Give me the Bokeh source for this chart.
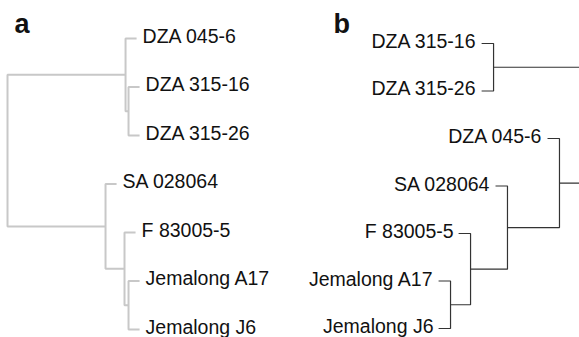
from bokeh.plotting import figure
from bokeh.layouts import row
from bokeh.models import Range1d, Label
from bokeh.core.properties import value
from bokeh.embed import file_html
from bokeh.resources import INLINE

# ---- Panel a: clustering tree (root at left, leaves at right) ----
a_leaves = ["DZA 045-6", "DZA 315-16", "DZA 315-26", "SA 028064",
            "F 83005-5", "Jemalong A17", "Jemalong J6"]
# merges: ids 0..6 are leaves, merge k creates node 7+k
a_left = [1, 0, 5, 4, 3, 8]
a_right = [2, 7, 6, 9, 10, 11]
a_height = [0.069, 0.092, 0.069, 0.100, 0.246, 1.000]
a_hang = 0.085

# ---- Panel b: clustering tree (leaves at left, root off to the right) ----
b_leaves = ["DZA 315-16", "DZA 315-26", "DZA 045-6", "SA 028064",
            "F 83005-5", "Jemalong A17", "Jemalong J6"]
b_left = [5, 4, 3, 2, 0, 11]
b_right = [6, 7, 8, 9, 1, 10]
b_height = [0.154, 0.308, 0.592, 0.992, 0.485, 1.300]
b_hang = 0.092

FONT = value("Liberation Sans")


def tree_paths(n, left, right, height, hang):
    """Elbow paths for every merge plus the leaf end positions."""
    y = {i: float(i) for i in range(n)}
    h = {}
    xs, ys = [], []
    for k, (l, r, ht) in enumerate(zip(left, right, height)):
        for c in (l, r):
            if c < n:
                h[c] = ht - hang
        nid = n + k
        y[nid] = (y[l] + y[r]) / 2.0
        h[nid] = ht
        xs.append([h[l], ht, ht, h[r]])
        ys.append([y[l], y[l], y[r], y[r]])
    leaf_h = [h[i] for i in range(n)]
    leaf_y = [y[i] for i in range(n)]
    return xs, ys, leaf_h, leaf_y


def base_fig(width, xr, yr):
    p = figure(width=width, height=337, x_range=xr, y_range=yr,
               x_axis_type=None, y_axis_type=None, toolbar_location=None,
               output_backend="svg", min_border=0)
    p.grid.visible = False
    p.outline_line_color = None
    p.background_fill_color = "white"
    p.border_fill_color = "white"
    return p


def panel_label(p, x, txt):
    p.add_layout(Label(x=x, y=314, x_units="screen", y_units="screen",
                       text=txt, text_font="Liberation Sans",
                       text_font_style="bold", text_font_size="27px",
                       text_baseline="alphabetic", text_color="#111111"))


# panel a
xs, ys, lh, ly = tree_paths(len(a_leaves), a_left, a_right, a_height, a_hang)
pa = base_fig(290, Range1d(1.054, -1.177), Range1d(6.165, -0.7835))
pa.multi_line(xs=xs, ys=ys, line_color="#c8c8c8", line_width=2)
pa.text(x=lh, y=ly, text=a_leaves, x_offset=6, y_offset=-2.5,
        text_align="left", text_baseline="middle", text_font=FONT,
        text_font_size="19.5px", text_color="#111111")
panel_label(pa, 14, "a")

# panel b
xs, ys, lh, ly = tree_paths(len(b_leaves), b_left, b_right, b_height, b_hang)
pb = base_fig(289, Range1d(-1.077, 1.146), Range1d(6.189, -0.905))
pb.multi_line(xs=xs, ys=ys, line_color="#333333", line_width=1.2)
pb.text(x=lh, y=ly, text=b_leaves, x_offset=-5, y_offset=-2.5,
        text_align="right", text_baseline="middle", text_font=FONT,
        text_font_size="19.5px", text_color="#111111")
panel_label(pb, 43, "b")

layout = row(pa, pb)
open("out.html", "w").write(file_html(layout, INLINE))
